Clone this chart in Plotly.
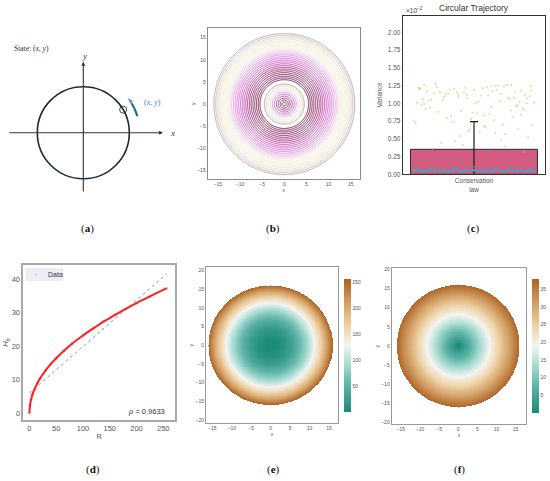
import numpy as np
import plotly.graph_objects as go

W, H = 550, 481

# ---- (a) schematic: state on a unit circle
STATE_ANGLE_DEG = 30.0
ARROW_RADIUS = 1.23
ARROW_ANGLES_DEG = [17, 21, 25, 29, 33, 36.5, 39.5]

# ---- (b) contour rings (radius levels)
INNER_RING_START, INNER_RING_END, INNER_RING_STEP = 0.45, 4.6, 0.45
OUTER_RING_START, OUTER_RING_END, OUTER_RING_STEP = 5.5, 16.05, 0.40

# ---- (c) variance bar and sample clouds (units of 1e-2)
BAR_LABEL = ["Conservation<br>law"]
VARIANCE_MEAN = [0.352]
VARIANCE_ERR = [0.39]
YELLOW_X = [-0.38, 0.12, -0.05, 0.31, -0.22, 0.40, 0.07, -0.33, 0.19, -0.11,
            0.26, -0.41, 0.03, 0.35, -0.17, 0.22, -0.28, 0.09, -0.02, 0.37,
            -0.35, 0.15, -0.08, 0.29, -0.25, 0.05, 0.41, -0.14, 0.18, -0.31,
            0.33, -0.04, 0.24, -0.39, 0.11, -0.20, 0.38, 0.01, -0.27, 0.14,
            -0.12, 0.30, -0.36, 0.08, 0.21, -0.09, 0.39, -0.23, 0.16, -0.40,
            0.27, -0.06, 0.34, -0.18, 0.04, -0.32, 0.23, -0.15, 0.36, -0.01,
            0.13, -0.29, 0.28, -0.37, 0.06, 0.20, -0.24, 0.32, -0.10, 0.17,
            -0.34, 0.10, -0.19, 0.40, -0.03, 0.25, -0.26, 0.02, 0.37, -0.13,
            0.19, -0.38, 0.07, -0.21, 0.30, -0.07, 0.35, -0.30, 0.12, -0.16,
            0.42, -0.42, 0.00, 0.26, -0.11, 0.15, -0.35, 0.33, -0.05, 0.22]
YELLOW_Y = [1.21, 0.95, 1.12, 0.64, 1.05, 1.24, 0.83, 1.17, 0.48, 1.09,
            1.26, 0.72, 1.02, 0.91, 1.19, 0.57, 1.14, 1.23, 0.78, 1.07,
            0.99, 1.25, 0.41, 1.16, 0.88, 1.11, 0.69, 1.20, 1.03, 0.94,
            1.18, 0.61, 1.08, 1.22, 0.85, 1.13, 0.52, 1.00, 1.27, 0.76,
            1.15, 0.97, 1.06, 0.66, 1.24, 0.89, 1.10, 0.44, 1.19, 1.01,
            0.81, 1.22, 0.93, 1.14, 0.59, 1.04, 1.26, 0.74, 1.12, 0.87,
            1.17, 0.36, 1.08, 0.98, 1.21, 0.70, 1.15, 1.02, 0.54, 1.25,
            0.92, 1.11, 0.79, 1.18, 0.63, 1.06, 1.23, 0.86, 1.00, 0.47,
            1.13, 1.20, 0.68, 1.09, 0.96, 1.16, 0.32, 1.05, 1.24, 0.82,
            1.01, 0.75, 1.19, 0.90, 1.12, 0.58, 1.26, 0.84, 1.07, 0.39]
GREEN_X = [-0.40, -0.31, -0.22, -0.13, -0.04, 0.05, 0.14, 0.23, 0.32, 0.41,
           -0.36, -0.27, -0.18, -0.09, 0.00, 0.09, 0.18, 0.27, 0.36, -0.38,
           -0.29, -0.20, -0.11, -0.02, 0.07, 0.16, 0.25, 0.34, -0.33, -0.24,
           -0.15, -0.06, 0.03, 0.12, 0.21, 0.30, 0.39, -0.42, 0.11, -0.17]
GREEN_Y = [0.12, 0.05, 0.21, 0.09, 0.30, 0.14, 0.07, 0.25, 0.11, 0.18,
           0.08, 0.27, 0.04, 0.16, 0.10, 0.22, 0.06, 0.13, 0.28, 0.19,
           0.10, 0.03, 0.24, 0.15, 0.08, 0.32, 0.12, 0.05, 0.17, 0.09,
           0.26, 0.06, 0.20, 0.11, 0.14, 0.04, 0.23, 0.07, 0.29, 0.13]
CYAN_X = [-0.42, -0.39, -0.36, -0.33, -0.30, -0.27, -0.24, -0.21, -0.18, -0.15,
          -0.12, -0.09, -0.06, -0.03, 0.00, 0.03, 0.06, 0.09, 0.12, 0.15,
          0.18, 0.21, 0.24, 0.27, 0.30, 0.33, 0.36, 0.39, 0.42]
CYAN_Y = [0.05, 0.06, 0.04, 0.05, 0.07, 0.05, 0.04, 0.06, 0.05, 0.05,
          0.07, 0.04, 0.06, 0.05, 0.06, 0.05, 0.04, 0.06, 0.05, 0.07,
          0.05, 0.04, 0.06, 0.05, 0.05, 0.06, 0.04, 0.06, 0.05]
C_YTICKS = [0.0, 0.25, 0.5, 0.75, 1.0, 1.25, 1.5, 1.75, 2.0]

# ---- (d) H_theta vs R
R_VALUES = [0, 1, 3, 6, 10, 15, 20, 30, 40, 50, 65, 80, 100, 120, 140, 160,
            180, 200, 225, 256]
H_VALUES = [0, 2.3, 4.0, 5.7, 7.3, 9.0, 10.4, 12.7, 14.7, 16.4, 18.7, 20.8,
            23.2, 25.4, 27.5, 29.4, 31.2, 32.9, 34.9, 37.3]
FIT_R = [0, 256]
FIT_H = [6.0, 41.6]
RHO_TEXT = "<i>ρ</i> = 0.9633"

# ---- (e)/(f) maps over the disc
DISC_RADIUS = 16.0
E_TICKS = [50, 100, 150, 200, 250]
F_TICKS = [5, 10, 15, 20, 25, 30, 35]
XY_TICKS_B = [-15, -10, -5, 0, 5, 10, 15]
Y_TICKS_EF = [-20, -15, -10, -5, 0, 5, 10, 15, 20]


def px_x(p):
    return p / W


def px_y(p):
    return 1 - p / H


def dom_x(a, b):
    return [a / W, b / W]


def dom_y(top, bottom):
    return [1 - bottom / H, 1 - top / H]


SANS = "Liberation Sans, Arial, sans-serif"
SERIF = "Liberation Serif, DejaVu Serif, serif"
TEAL_BROWN = [[0.0, "#1c8a78"], [0.2, "#5cb3a6"], [0.36, "#a9dcd3"],
              [0.5, "#f4f4f1"], [0.64, "#eed5ab"], [0.8, "#d6a56a"],
              [1.0, "#ad6126"]]
RING_SCALE = [[0.0, "#6e1846"], [0.28, "#a02c78"], [0.34, "#c443b6"],
              [0.5, "#d873d2"], [0.62, "#ebb8ea"], [0.7, "#f4eed2"],
              [0.84, "#efe9cc"], [0.92, "#ddd1c8"], [1.0, "#b4a2a2"]]

fig = go.Figure()

# ---------------- (a)
th = np.deg2rad(STATE_ANGLE_DEG)
fig.add_trace(go.Scatter(x=[np.cos(th)], y=[np.sin(th)], mode="markers",
                         marker=dict(symbol="circle-open", size=7, color="#333",
                                     line=dict(width=0.9)),
                         xaxis="x", yaxis="y", showlegend=False))
arc = np.deg2rad(ARROW_ANGLES_DEG)
n_arc = len(ARROW_ANGLES_DEG)
fig.add_trace(go.Scatter(x=ARROW_RADIUS * np.cos(arc), y=ARROW_RADIUS * np.sin(arc),
                         mode="lines+markers",
                         line=dict(color="#1d6f86", width=2.2),
                         marker=dict(symbol=["circle"] * (n_arc - 1) + ["arrow"],
                                     size=[0] * (n_arc - 1) + [8],
                                     angleref="previous", color="#1d6f86"),
                         xaxis="x", yaxis="y", showlegend=False))

# ---------------- (b)
gb = np.linspace(-16.6, 16.6, 333)
GX, GY = np.meshgrid(gb, gb)
radius = np.sqrt(GX ** 2 + GY ** 2)
for start, end, step in [(INNER_RING_START, INNER_RING_END, INNER_RING_STEP),
                         (OUTER_RING_START, OUTER_RING_END, OUTER_RING_STEP)]:
    fig.add_trace(go.Contour(x=gb, y=gb, z=radius, zmin=0, zmax=16.05,
                             autocontour=False,
                             contours=dict(coloring="lines", start=start, end=end,
                                           size=step),
                             colorscale=RING_SCALE, showscale=False,
                             line=dict(width=1.0), hoverinfo="skip",
                             xaxis="x2", yaxis="y2"))

# ---------------- (c)
fig.add_trace(go.Bar(x=[0], y=VARIANCE_MEAN, width=0.89,
                     marker=dict(color="#d65a82", line=dict(color="#2a2a2a", width=1)),
                     error_y=dict(type="data", array=VARIANCE_ERR, color="#1a1a1a",
                                  thickness=1.2, width=4),
                     xaxis="x3", yaxis="y3", showlegend=False))
fig.add_trace(go.Scatter(x=YELLOW_X, y=YELLOW_Y, mode="markers",
                         marker=dict(size=2.2, color="#e2b85a", opacity=0.55),
                         xaxis="x3", yaxis="y3", showlegend=False))
fig.add_trace(go.Scatter(x=GREEN_X, y=GREEN_Y, mode="markers",
                         marker=dict(size=2.2, color="#4fae5a", opacity=0.65),
                         xaxis="x3", yaxis="y3", showlegend=False))
fig.add_trace(go.Scatter(x=CYAN_X, y=CYAN_Y, mode="lines+markers",
                         line=dict(color="#1bbcd6", width=1),
                         marker=dict(size=2.5, color="#18b8d8"),
                         xaxis="x3", yaxis="y3", showlegend=False))

# ---------------- (d)
fig.add_trace(go.Scatter(x=R_VALUES, y=H_VALUES, mode="markers", name="Data",
                         marker=dict(size=3, color="#f4a0b0"),
                         xaxis="x4", yaxis="y4", showlegend=False))
fig.add_trace(go.Scatter(x=FIT_R, y=FIT_H, mode="lines",
                         line=dict(color="#8f93d2", width=1, dash="dot"),
                         xaxis="x4", yaxis="y4", showlegend=False))
fig.add_trace(go.Scatter(x=R_VALUES, y=H_VALUES, mode="lines",
                         line=dict(color="#ff1f1f", width=2, shape="spline"),
                         xaxis="x4", yaxis="y4", showlegend=False))

# ---------------- (e) / (f)
ge = np.linspace(-DISC_RADIUS, DISC_RADIUS, 241)
EX, EY = np.meshgrid(ge, ge)
r_sq = EX ** 2 + EY ** 2
r_sq = np.where(r_sq <= DISC_RADIUS ** 2, r_sq, np.nan)
h_map = np.interp(r_sq, R_VALUES, H_VALUES)
h_map = np.where(np.isnan(r_sq), np.nan, h_map)


def cbar(left, top, bottom, ticks):
    return dict(x=px_x(left), xanchor="left", xpad=0, ypad=0,
                y=px_y((top + bottom) / 2), yanchor="middle",
                len=(bottom - top) / H, lenmode="fraction",
                thickness=6.5, thicknessmode="pixels", outlinewidth=0,
                tickvals=ticks, ticks="", tickfont=dict(size=5, color="#555",
                                                       family=SANS))


fig.add_trace(go.Heatmap(x=ge, y=ge, z=r_sq, zmin=0, zmax=256.5,
                         colorscale=TEAL_BROWN, hoverinfo="skip",
                         colorbar=cbar(344, 279.3, 412.3, E_TICKS),
                         xaxis="x5", yaxis="y5"))
fig.add_trace(go.Heatmap(x=ge, y=ge, z=h_map, zmin=0, zmax=37.8,
                         colorscale=TEAL_BROWN, hoverinfo="skip",
                         colorbar=cbar(531.7, 279, 413.3, F_TICKS),
                         xaxis="x6", yaxis="y6"))


def frame_axis(domain, rng, color, width, tickvals=None, size=5, title=None,
               standoff=2, anchor=None, ticktext=None):
    ax = dict(domain=domain, range=rng, showline=True, mirror=True,
              linecolor=color, linewidth=width, showgrid=False, zeroline=False,
              ticks="", tickfont=dict(size=size, color="#555", family=SANS),
              fixedrange=True, anchor=anchor, automargin=False)
    if tickvals is not None:
        ax["tickvals"] = tickvals
    if ticktext is not None:
        ax["ticktext"] = ticktext
    if title is not None:
        ax["title"] = dict(text=title, standoff=standoff,
                           font=dict(size=size, color="#555", family=SANS))
    return ax


hidden = dict(visible=False, fixedrange=True, automargin=False)

fig.update_layout(
    width=W, height=H, margin=dict(l=0, r=0, t=0, b=0, autoexpand=False),
    paper_bgcolor="white", plot_bgcolor="white",
    font=dict(family=SANS, color="#444"),
    showlegend=False,
    xaxis=dict(domain=dom_x(0, 180), range=[-1.811, 2.102], anchor="y", **hidden),
    yaxis=dict(domain=dom_y(40, 200), range=[-1.463, 2.015], anchor="x", **hidden),
    xaxis2=frame_axis(dom_x(207.7, 360), [-17.3, 17.1], "#8a8a8a", 1,
                      XY_TICKS_B, 5, "x", 1, "y2"),
    yaxis2=frame_axis(dom_y(28.3, 179), [-16.9, 17.1], "#8a8a8a", 1,
                      XY_TICKS_B, 5, "y", 1, "x2"),
    xaxis3=frame_axis(dom_x(402.7, 545.3), [-0.5, 0.5], "#333", 1,
                      [0], 6.5, None, 2, "y3", BAR_LABEL),
    yaxis3=frame_axis(dom_y(15.7, 174.3), [0, 2.235], "#333", 1,
                      C_YTICKS, 6.5, "Variance", 4, "x3",
                      ["%.2f" % v for v in C_YTICKS]),
    xaxis4=frame_axis(dom_x(23.3, 175), [-11.5, 272], "#a8a8a8", 1.5,
                      [0, 50, 100, 150, 200, 250], 7.5, "R", 2, "y4"),
    yaxis4=frame_axis(dom_y(265, 420), [-2.1, 44.3], "#a8a8a8", 1.5,
                      [0, 10, 20, 30, 40], 7.5, "<i>H</i><sub>θ</sub>", 2, "x4"),
    xaxis5=frame_axis(dom_x(206, 338), [-16.6, 17.3], "#999", 1,
                      XY_TICKS_B, 5, "x", 1, "y5"),
    yaxis5=frame_axis(dom_y(267.3, 423.3), [-20.9, 20.9], "#999", 1,
                      Y_TICKS_EF, 5, "y", 1, "x5"),
    xaxis6=frame_axis(dom_x(391.7, 526.3), [-17.4, 17.8], "#999", 1,
                      XY_TICKS_B, 5, "x", 1, "y6"),
    yaxis6=frame_axis(dom_y(268.3, 424), [-20.4, 20.3], "#999", 1,
                      Y_TICKS_EF, 5, "y", 1, "x6"),
)

# (a) circle and coordinate axes
fig.add_shape(type="circle", xref="x", yref="y", x0=-1, x1=1, y0=-1, y1=1,
              line=dict(color="#1c2b3a", width=1.6))

# (d) legend box, drawn by hand to keep it as small as the original
fig.add_shape(type="rect", xref="paper", yref="paper",
              x0=px_x(26), x1=px_x(63), y0=px_y(280.5), y1=px_y(268.5),
              fillcolor="#eceef3", line=dict(color="#e2e3ea", width=0.5), layer="above")
fig.add_shape(type="circle", xref="paper", yref="paper",
              x0=px_x(35.2), x1=px_x(36.8), y0=px_y(275.3), y1=px_y(273.7),
              fillcolor="#f4a0b0", line=dict(width=0), layer="above")


def note(x, y, text, size, color, family=SANS, xanchor="center", ref="paper"):
    yref = "y" if ref == "x" else ref
    return dict(x=x, y=y, xref=ref, yref=yref, text=text, showarrow=False,
                xanchor=xanchor, yanchor="middle",
                font=dict(family=family, size=size, color=color))


ann = []
ann.append(dict(x=1.73, y=0, ax=-1.64, ay=0, xref="x", yref="y", axref="x",
                ayref="y", showarrow=True, arrowhead=2, arrowsize=0.7,
                arrowwidth=1.1, arrowcolor="#333", text=""))
ann.append(dict(x=0, y=1.54, ax=0, ay=-1.31, xref="x", yref="y", axref="x",
                ayref="y", showarrow=True, arrowhead=2, arrowsize=0.7,
                arrowwidth=1.1, arrowcolor="#333", text=""))
ann.append(note(1.94, 0, "<i>x</i>", 9, "#333", SERIF, ref="x"))
ann.append(note(0.02, 1.66, "<i>y</i>", 9, "#333", SERIF, ref="x"))
ann.append(note(1.50, 0.65, "(<i>x</i>, <i>y</i>)", 8, "#3d8db0", SERIF, ref="x"))
ann.append(note(-1.56, 1.84, "State: (<i>x</i>, <i>y</i>)", 7.5, "#333", SERIF,
                "left", ref="x"))

# (c) title and exponent
ann.append(note(px_x(474), px_y(8), "Circular Trajectory", 8.5, "#333"))
ann.append(note(px_x(404), px_y(10), "×10<sup>−2</sup>", 6.5, "#444", xanchor="left"))

# (d) legend label and correlation
ann.append(note(px_x(46), px_y(274.5), "Data", 7, "#333", xanchor="left"))
ann.append(note(px_x(146), px_y(411), RHO_TEXT, 7.5, "#333"))

# panel letters
for letter, (lx, ly) in {"a": (87, 228), "b": (273, 228), "c": (473, 228),
                         "d": (93, 469), "e": (273, 469), "f": (460, 469)}.items():
    ann.append(note(px_x(lx), px_y(ly), "(<b>%s</b>)" % letter, 11, "#111", SERIF))

fig.update_layout(annotations=ann)

fig.write_html("out.html", config={"displayModeBar": False},
               post_script="document.body.style.margin = '0px';")
